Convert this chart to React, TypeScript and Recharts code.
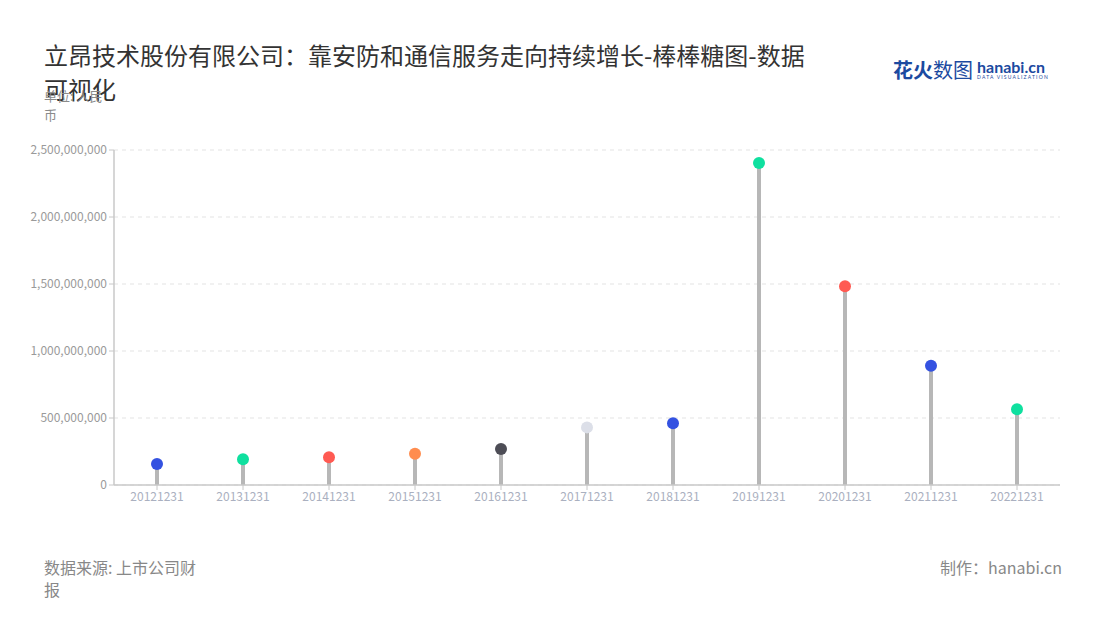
import React from "react";
import {
  ComposedChart,
  Bar,
  Scatter,
  XAxis,
  YAxis,
  CartesianGrid,
  Cell,
} from "recharts";

const dates = [
  "20121231",
  "20131231",
  "20141231",
  "20151231",
  "20161231",
  "20171231",
  "20181231",
  "20191231",
  "20201231",
  "20211231",
  "20221231",
];

const revenue = [
  157000000, 192000000, 207000000, 234000000, 269000000, 430000000,
  460000000, 2403000000, 1483000000, 890000000, 565000000,
];

const dotColors = [
  "#3452e1",
  "#0fe09f",
  "#ff5a52",
  "#ff8d4f",
  "#4d4d56",
  "#dcdfe8",
  "#3452e1",
  "#0fe09f",
  "#ff5a52",
  "#3452e1",
  "#0fe09f",
];

const yTicks = [0, 500000000, 1000000000, 1500000000, 2000000000, 2500000000];

const data = dates.map((d, i) => ({ date: d, value: revenue[i] }));

const FONT = '"Noto Sans CJK SC", "Noto Sans", sans-serif';

const Dot = (props: any) => {
  const { cx, cy, fill } = props;
  if (cx == null || cy == null) return null;
  return <circle cx={cx} cy={cy} r={6} fill={fill} />;
};

export default function App() {
  return (
    <div
      style={{
        position: "absolute",
        left: 0,
        top: 0,
        width: 1100,
        height: 620,
        background: "#fff",
        fontFamily: FONT,
        overflow: "hidden",
      }}
    >
      <div
        style={{
          position: "absolute",
          left: 44,
          top: 38,
          fontSize: 24,
          lineHeight: "34px",
          color: "#333",
        }}
      >
        <div>立昂技术股份有限公司：靠安防和通信服务走向持续增长-棒棒糖图-数据</div>
        <div>可视化</div>
      </div>
      <div
        style={{
          position: "absolute",
          left: 44,
          top: 86,
          fontSize: 13,
          lineHeight: "19px",
          color: "#8a8a8a",
        }}
      >
        <div>单位: 人民</div>
        <div>币</div>
      </div>

      {/* logo */}
      <div
        style={{
          position: "absolute",
          left: 893,
          top: 59,
          display: "flex",
          alignItems: "center",
        }}
      >
        <span style={{ fontSize: 20, color: "#1c4aa0", lineHeight: 1 }}>
          <b>花火</b>数图
        </span>
        <div style={{ marginLeft: 4, lineHeight: 1 }}>
          <div
            style={{
              fontSize: 16,
              fontWeight: 700,
              color: "#1c4aa0",
              fontFamily: "Lato, sans-serif",
            }}
          >
            hanabi.cn
          </div>
          <div
            style={{
              fontSize: 5,
              color: "#1c4aa0",
              letterSpacing: 1.2,
              fontFamily: "Lato, sans-serif",
            }}
          >
            DATA VISUALIZATION
          </div>
        </div>
      </div>

      <div style={{ position: "absolute", left: 0, top: 0 }}>
        <ComposedChart
          width={1100}
          height={620}
          data={data}
          margin={{ top: 150, right: 40, bottom: 105, left: 44 }}
        >
          <CartesianGrid
            vertical={false}
            stroke="#e3e3e3"
            strokeDasharray="4 4"
          />
          <XAxis
            dataKey="date"
            height={30}
            stroke="#c8c8c8"
            tickLine={{ stroke: "#c8c8c8" }}
            tickSize={5}
            interval={0}
            tick={{ fill: "#aab0c0", fontSize: 12, fontFamily: FONT }}
            axisLine={{ stroke: "#c8c8c8", strokeWidth: 1.5 }}
          />
          <YAxis
            width={70}
            domain={[0, 2500000000]}
            ticks={yTicks}
            interval={0}
            tickFormatter={(v: number) => v.toLocaleString("en-US")}
            tick={{ fill: "#9a9a9a", fontSize: 12, fontFamily: FONT }}
            tickLine={{ stroke: "#c8c8c8" }}
            tickSize={5}
            axisLine={{ stroke: "#c8c8c8", strokeWidth: 1.5 }}
          />
          <Bar
            dataKey="value"
            barSize={4}
            fill="#b7b7b7"
            isAnimationActive={false}
          />
          <Scatter dataKey="value" shape={<Dot />} isAnimationActive={false}>
            {data.map((_, i) => (
              <Cell key={i} fill={dotColors[i]} />
            ))}
          </Scatter>
        </ComposedChart>
      </div>

      <div
        style={{
          position: "absolute",
          left: 44,
          top: 556,
          fontSize: 16,
          lineHeight: "22px",
          color: "#888",
        }}
      >
        <div>数据来源: 上市公司财</div>
        <div>报</div>
      </div>
      <div
        style={{
          position: "absolute",
          right: 38,
          top: 556,
          fontSize: 16,
          lineHeight: "22px",
          color: "#888",
        }}
      >
        制作：hanabi.cn
      </div>
    </div>
  );
}
